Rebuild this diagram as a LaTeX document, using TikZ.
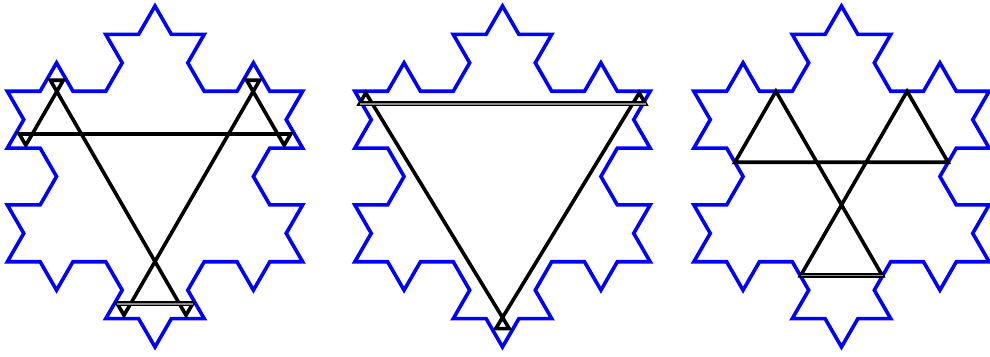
\documentclass[tikz,border=0pt]{standalone}
\usetikzlibrary{lindenmayersystems,calc}
\pgfdeclarelindenmayersystem{KochFlk}{\rule{F -> F-F++F-F}}
\tikzset{
  flake/.style={draw=blue, line width=3.6pt, line join=miter,
    l-system={KochFlk, axiom=F++F++F, order=2, step=32.81pt, angle=60}},
  blk/.style={draw=black, line width=3.6pt, line join=miter},
  dbl/.style={draw=black, line width=1.9pt, double=black!45, double distance=1.2pt},
}
\newcommand\Lp{13pt}
\begin{document}
\begin{tikzpicture}[x=1pt,y=1pt]
\useasboundingbox (0,0) rectangle (990,356);
% ---------- snowflakes ----------
\foreach \cx in {155,502.5,841.5}{
  \begin{scope}[shift={(\cx-147.66,179.5-85.25)}]
    \draw[flake] lindenmayer system -- cycle;
  \end{scope}
}
% ---------- picture 1 ----------
\begin{scope}[shift={(155,179.5)}]
  \coordinate (A1) at (-98.15,85);
  \coordinate (B1) at (-122.69,42.5);
  \coordinate (C1) at (122.69,42.5);
  \coordinate (D1) at (98.15,85);
  \coordinate (E1) at (-24.54,-127.5);
  \coordinate (F1) at (24.54,-127.5);
\end{scope}
\draw[blk] ($(A1)!-\Lp!(B1)$) -- ($(B1)!-\Lp!(A1)$) -- ($(B1)!-\Lp!(C1)$) -- ($(C1)!-\Lp!(B1)$)
  -- ($(C1)!-\Lp!(D1)$) -- ($(D1)!-\Lp!(C1)$) -- ($(D1)!-\Lp!(E1)$) -- ($(E1)!-\Lp!(D1)$)
  -- ($(E1)!-\Lp!(F1)$) -- ($(F1)!-\Lp!(E1)$) -- ($(F1)!-\Lp!(A1)$) -- ($(A1)!-\Lp!(F1)$) -- cycle;
\draw[dbl] ($(E1)!-\Lp!(F1)$) -- ($(F1)!-\Lp!(E1)$);
% ---------- picture 2 ----------
\begin{scope}[shift={(502.5,179.5)}]
  \coordinate (X1) at (-130,72.5);
  \coordinate (X2) at (130,72.5);
  \coordinate (X3) at (0,-141);
\end{scope}
\draw[blk] ($(X1)!-\Lp!(X2)$) -- ($(X2)!-\Lp!(X1)$) -- ($(X2)!-\Lp!(X3)$) -- ($(X3)!-\Lp!(X2)$)
  -- ($(X3)!-\Lp!(X1)$) -- ($(X1)!-\Lp!(X3)$) -- cycle;
\draw[dbl] ($(X1)!-\Lp!(X2)$) -- ($(X2)!-\Lp!(X1)$);
% ---------- picture 3 ----------
\begin{scope}[shift={(841.5,179.5)}]
  \coordinate (A3) at (-65.6,85.2);
  \coordinate (B3) at (-106.6,14.2);
  \coordinate (C3) at (106.6,14.2);
  \coordinate (D3) at (65.6,85.2);
  \coordinate (E3) at (-41,-99.4);
  \coordinate (F3) at (41,-99.4);
\end{scope}
\draw[blk] (A3) -- (B3) -- (C3) -- (D3) -- (E3) -- (F3) -- cycle;
\draw[dbl] (E3) -- (F3);
\end{tikzpicture}
\end{document}
